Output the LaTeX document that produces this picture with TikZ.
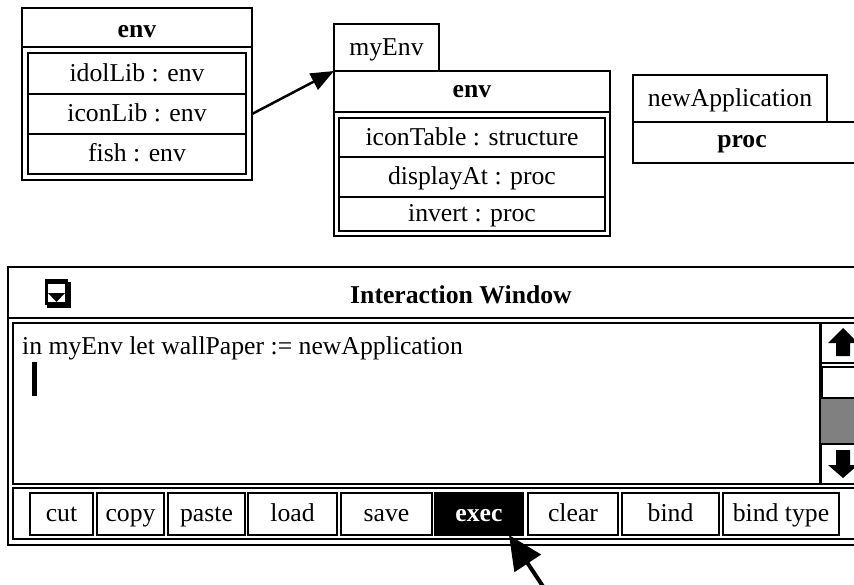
\documentclass[tikz,border=0pt]{standalone}
\usepackage{fontspec}
\setmainfont{Liberation Serif}
\usetikzlibrary{arrows.meta}
\begin{document}
\begin{tikzpicture}[x=1pt,y=-1pt,
  txt/.style={font=\fontsize{25.7}{30}\selectfont, inner sep=0pt},
  bold/.style={font=\fontsize{25.7}{30}\selectfont\bfseries, inner sep=0pt},
  frame/.style={draw, line width=2pt, anchor=north west, inner sep=0pt, outer sep=0pt},
  cell/.style={frame, font=\fontsize{25.7}{30}\selectfont, text height=20pt, text depth=5pt},
  btn/.style={cell, line width=2.6pt, minimum height=42pt},
  lnk/.style={line width=2.5pt, -{Triangle[length=23pt,width=18pt]}},
  bigptr/.style={line width=4pt, -{Triangle[length=34pt,width=31pt]}},
]
\useasboundingbox (0,0) rectangle (854,584);
\fill[white] (0,0) rectangle (854,584);

% ---- left env ----
\node[frame, minimum width=230pt, minimum height=39pt] (envHead) at (22,8) {};
\node[bold, anchor=base] (envHeadT) at (137,37) {env};
\node[frame, minimum width=230pt, minimum height=133pt] (envBody) at (22,47) {};
\node[cell, minimum width=218pt, minimum height=41pt] (idol) at (28,53) {idolLib : env};
\node[cell, minimum width=218pt, minimum height=40pt] (iconLib) at (28,94) {iconLib : env};
\node[cell, minimum width=218pt, minimum height=40pt] (fish) at (28,134) {fish : env};

% ---- myEnv ----
\node[cell, minimum width=105pt, minimum height=47pt] (myEnvTab) at (334,24) {myEnv};
\node[frame, minimum width=276pt, minimum height=41pt] (myHead) at (334,71) {};
\node[bold, anchor=base] (myHeadT) at (472,97) {env};
\node[frame, minimum width=276pt, minimum height=124pt] (myBody) at (334,112) {};
\node[cell, minimum width=266pt, minimum height=39pt] (iconTable) at (339,118) {iconTable : structure};
\node[cell, minimum width=266pt, minimum height=40pt] (displayAt) at (339,157) {displayAt : proc};
\node[cell, minimum width=266pt, minimum height=34pt] (invert) at (339,197) {invert : proc};

% ---- newApplication ----
\node[cell, minimum width=194pt, minimum height=47pt] (newAppTab) at (633,75) {newApplication};
\node[frame, minimum width=225pt, minimum height=41pt] (procBox) at (633,122) {};
\node[bold, anchor=base] (procT) at (742,147) {proc};

% ---- link ----
\draw[lnk] (envBody.east |- iconLib.center) -- (myHead.north west);

% ---- interaction window ----
\node[frame, minimum width=900pt, minimum height=278pt] (win) at (8,267) {};
\draw[line width=2pt] (8,318) -- (908,318);
% close icon
\fill[black] (47,282) rectangle (71,308);
\fill[black] (45,279) rectangle (68,305);
\fill[white] (48,284) rectangle (65,302);
\fill[black] (48,293) -- (65,293) -- (56.5,302) -- cycle;
\node[bold, anchor=base] (title) at (461,303) {Interaction Window};

\node[frame, minimum width=895pt, minimum height=161pt] (textArea) at (13,323) {};
\node[txt, anchor=base west] (cmd) at (22,354) {in myEnv let wallPaper := newApplication};
\fill[black] (32,362) rectangle (37,396);

% scrollbar
\draw[line width=3pt] (820,323) -- (820,484);
\draw[line width=2pt] (820,363) -- (908,363);
\fill[gray] (821,399) rectangle (908,443);
\draw[line width=2pt] (822,367) rectangle (908,398);
\draw[line width=2pt] (820,444) -- (908,444);
\fill[black] (843,328) -- (858,343) -- (850,343) -- (850,356) -- (836,356) -- (836,343) -- (828,343) -- cycle;
\fill[black] (836,450) -- (850,450) -- (850,465) -- (858,465) -- (843,478) -- (828,465) -- (836,465) -- cycle;

% button bar
\node[frame, minimum width=895pt, minimum height=51pt] (btnBar) at (13,488) {};
\node[btn, minimum width=63pt] (cut) at (30,493) {cut};
\node[btn, minimum width=67pt] (copy) at (97,493) {copy};
\node[btn, minimum width=77pt] (paste) at (168,493) {paste};
\node[btn, minimum width=89pt] (load) at (248,493) {load};
\node[btn, minimum width=91pt] (save) at (341,493) {save};
\node[btn, minimum width=88pt, fill=black, text=white, font=\fontsize{25.7}{30}\selectfont\bfseries] (exec) at (435,493) {exec};
\node[btn, minimum width=90pt] (clear) at (528,493) {clear};
\node[btn, minimum width=97pt] (bind) at (622,493) {bind};
\node[btn, minimum width=116pt] (bindtype) at (723,493) {bind type};

% pointer
\coordinate (pointer) at (548,594);
\draw[bigptr] (pointer) -- ([xshift=30pt]exec.south);
\end{tikzpicture}
\end{document}
